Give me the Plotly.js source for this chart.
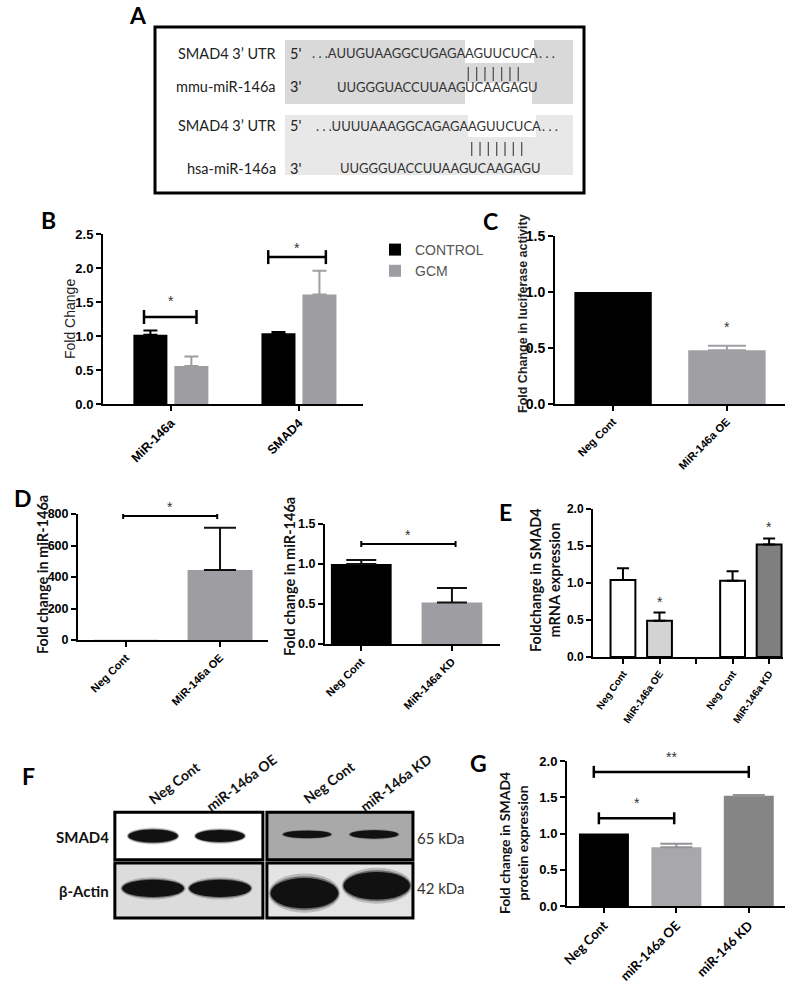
<!DOCTYPE html>
<html>
<head>
<meta charset="utf-8">
<script src="https://cdn.plot.ly/plotly-3.0.1.min.js"></script>
<style>
  html, body { margin: 0; padding: 0; background: #fff; }
  #chart { width: 800px; height: 987px; }
</style>
</head>
<body>
<div id="chart"></div>
<script>
// ---- data ----
// B: qPCR, control vs GCM
const bCategories = ['MiR-146a', 'SMAD4'];
const bControl = [1.02, 1.04];
const bControlSem = [0.06, 0.02];
const bGcm = [0.56, 1.61];
const bGcmSem = [0.14, 0.35];

// C: luciferase
const cCategories = ['Neg Cont', 'MiR-146a OE'];
const cValues = [1.0, 0.48];
const cSem = [null, 0.04];

// D: miR-146a levels
const dOeCategories = ['Neg Cont', 'MiR-146a OE'];
const dOeValues = [1, 445];
const dOeSem = [null, 268];
const dKdCategories = ['Neg Cont', 'MiR-146a KD'];
const dKdValues = [1.0, 0.52];
const dKdSem = [0.05, 0.18];

// E: SMAD4 mRNA
const eLabels = ['Neg Cont', 'MiR-146a OE', '', 'Neg Cont', 'MiR-146a KD'];
const eValues = [1.04, 0.49, null, 1.03, 1.52];
const eSem = [0.16, 0.11, null, 0.13, 0.08];

// F: western blot (relative band strength)
const blotLanes = ['Neg Cont', 'miR-146a OE', 'Neg Cont', 'miR-146a KD'];
const smad4Band = [1.0, 0.92, 0.55, 0.62];
const actinBand = [1.0, 1.0, 1.75, 1.6];

// G: SMAD4 protein
const gCategories = ['Neg Cont', 'miR-146a OE', 'miR-146 KD'];
const gValues = [1.0, 0.81, 1.52];
const gSem = [null, 0.05, 0.01];


//---------------------------------------------------------------//

// pixel -> paper helpers for the figure furniture
const W = 800, H = 987;
const px = x => x / W;
const py = y => 1 - y / H;
const domX = (a, b) => [px(a), px(b)];
const domY = (top, bottom) => [py(bottom), py(top)];

// only the upper half of the error bar, like GraphPad draws it
const upperErr = (sem, color, w) => ({
  type: 'data', symmetric: false, visible: true,
  array: sem.map(s => s == null ? NaN : s),
  arrayminus: sem.map(s => s == null ? NaN : 0),
  color: color, thickness: 2, width: w
});

const boldArial = (size) => ({family: 'Arial, Liberation Sans', size: size, color: '#000', weight: 'bold'});

const baseAxis = {
  showline: true, linecolor: '#000', linewidth: 2,
  ticks: 'outside', ticklen: 5, tickwidth: 2, tickcolor: '#000',
  showgrid: false, zeroline: false, fixedrange: true,
  tickfont: boldArial(12)
};

const GRAY = '#9e9ea2';

//---------------------------------------------------------------//
// traces

const traces = [];

// B
traces.push({
  type: 'bar', name: 'CONTROL', x: bCategories, y: bControl, xaxis: 'x', yaxis: 'y',
  marker: {color: '#000'}, error_y: upperErr(bControlSem, '#000', 7)
});
traces.push({
  type: 'bar', name: 'GCM', x: bCategories, y: bGcm, xaxis: 'x', yaxis: 'y',
  marker: {color: GRAY}, error_y: upperErr(bGcmSem, GRAY, 7)
});

// C
traces.push({
  type: 'bar', x: cCategories, y: cValues, xaxis: 'x2', yaxis: 'y2', width: 0.68, showlegend: false,
  marker: {color: ['#000', '#a0a0a4']}, error_y: upperErr(cSem, '#a0a0a4', 19)
});

// D left
traces.push({
  type: 'bar', x: dOeCategories, y: dOeValues, xaxis: 'x3', yaxis: 'y3', width: 0.69, showlegend: false,
  marker: {color: [GRAY, GRAY]}, error_y: upperErr(dOeSem, '#111', 16)
});

// D right
traces.push({
  type: 'bar', x: dKdCategories, y: dKdValues, xaxis: 'x4', yaxis: 'y4', width: 0.67, showlegend: false,
  marker: {color: ['#000', GRAY]}, error_y: upperErr(dKdSem, '#111', 15)
});

// E
traces.push({
  type: 'bar', x: eLabels.map((_, i) => i), y: eValues, xaxis: 'x5', yaxis: 'y5', width: 0.68, showlegend: false,
  marker: {color: ['#fff', '#d3d3d3', '#fff', '#fff', '#7f7f7f'], line: {color: '#000', width: 2}},
  error_y: upperErr(eSem, '#000', 6)
});

// G
traces.push({
  type: 'bar', x: gCategories, y: gValues, xaxis: 'x6', yaxis: 'y6', width: 0.69, showlegend: false,
  marker: {color: ['#000', '#a8a8ac', '#858585']}, error_y: upperErr(gSem, '#939397', 16)
});

// F placeholder so the blot axes exist
traces.push({type: 'scatter', x: [], y: [], xaxis: 'x7', yaxis: 'y7', showlegend: false});


//---------------------------------------------------------------//
// shapes and annotations

const shapes = [];
const annotations = [];

const note = (text, x, y, extra) => annotations.push(Object.assign({
  text: text, x: px(x), y: py(y), xref: 'paper', yref: 'paper', showarrow: false,
  xanchor: 'center', yanchor: 'middle', borderpad: 0,
  font: {family: 'Lato, Arial', size: 14, color: '#222'}
}, extra || {}));

const rect = (x0, y0, x1, y1, fill, line) => shapes.push({
  type: 'rect', xref: 'paper', yref: 'paper', x0: px(x0), x1: px(x1), y0: py(y0), y1: py(y1),
  fillcolor: fill, line: line || {width: 0}, layer: 'below'
});

// significance bracket with end caps
const bracket = (xr, yr, x0, x1, y, cap, w) => {
  const ln = {color: '#000', width: w || 2.5};
  shapes.push({type: 'line', xref: xr, yref: yr, x0: x0, x1: x1, y0: y, y1: y, line: ln});
  [x0, x1].forEach(x => shapes.push({
    type: 'line', xref: xr, yref: yr, x0: x, x1: x, ysizemode: 'pixel', yanchor: y, y0: -cap, y1: cap, line: ln
  }));
};
const star = (xr, yr, x, y, shift, text) => annotations.push({
  text: text || '*', xref: xr, yref: yr, x: x, y: y, yshift: shift, showarrow: false,
  xanchor: 'center', yanchor: 'middle', font: {family: 'Arial', size: 14, color: '#333'}
});

// ---- panel letters
const letters = [['A', 138, 15], ['B', 48, 220], ['C', 490, 221], ['D', 23, 498],
                 ['E', 505, 512], ['F', 28, 776], ['G', 478, 763]];
letters.forEach(l => note(l[0], l[1], l[2], {font: {family: 'Lato, Arial', size: 23, color: '#000', weight: 'bold'}}));

// ---- A: alignment box
rect(155, 27, 584, 193, '#fff', {color: '#000', width: 3});
rect(285, 40, 573, 104, '#d9d9d9');
rect(285, 115, 573, 175, '#e8e8e8');
rect(465, 40, 534, 63, '#fff');
rect(465, 83, 532, 104, '#fff');
rect(468, 115, 536, 137, '#fff');

const seqFont = {family: 'Lato, Arial', size: 13, color: '#333'};
const labFont = {family: 'Lato, Arial', size: 14.5, color: '#222'};
const seqRows = [
  {y: 53, label: 'SMAD4 3’ UTR', end: "5'", pre: '. . .AUUGUAAGGCUGAGA', seed: 'AGUUCUCA', post: '. . .', cut: 465, postX: 538},
  {y: 87, label: 'mmu-miR-146a', end: "3'", pre: 'UUGGGUACCUUAAG', seed: 'UCAAGAGU', post: '', cut: 465},
  {y: 126, label: 'SMAD4 3’ UTR', end: "5'", pre: '. . .UUUUAAAGGCAGAGA', seed: 'AGUUCUCA', post: '. . .', cut: 468, postX: 541},
  {y: 168, label: 'hsa-miR-146a', end: "3'", pre: 'UUGGGUACCUUAAG', seed: 'UCAAGAGU', post: '', cut: 468}
];
seqRows.forEach(r => {
  note(r.label, 277, r.y, {xanchor: 'right', font: labFont});
  note(r.end, 289, r.y, {xanchor: 'left', font: labFont});
  note(r.pre, r.cut + 1, r.y, {xanchor: 'right', font: seqFont});
  note(r.seed, r.cut - 1, r.y, {xanchor: 'left', font: seqFont});
  if (r.post) note(r.post, r.postX, r.y, {xanchor: 'left', font: seqFont});
});
// base pairing ticks
[[468.3, 67, 81], [471.7, 142, 156]].forEach(p => {
  for (let i = 0; i < 7; i++) {
    shapes.push({type: 'line', xref: 'paper', yref: 'paper',
      x0: px(p[0] + i * 8.33), x1: px(p[0] + i * 8.33), y0: py(p[1]), y1: py(p[2]),
      line: {color: '#555', width: 1.3}});
  }
});

// ---- B
note('Fold Change', 70, 319, {textangle: -90, font: {family: 'Arial', size: 14, color: '#222'}});
bracket('x', 'y', -0.21, 0.20, 1.28, 7);
star('x', 'y', 0, 1.28, 16);
bracket('x', 'y', 0.76, 1.21, 2.16, 7);
star('x', 'y', 0.985, 2.16, 9);

// ---- C
note('<b>Fold Change in luciferase activity</b>', 523, 314, {textangle: -90, font: {family: 'Arial', size: 12.5, color: '#222'}});
star('x2', 'y2', 1, 0.52, 19);

// ---- D
const titleFont = {family: 'Lato, Arial', size: 14.5, color: '#111', weight: 'bold'};
note('Fold change in miR-146a', 42, 575, {textangle: -90, font: titleFont});
note('Fold change in miR-146a', 289, 577, {textangle: -90, font: titleFont});
bracket('x3', 'y3', -0.03, 0.97, 787, 3, 2);
star('x3', 'y3', 0.47, 787, 9);
bracket('x4', 'y4', 0, 1.04, 1.25, 3, 2);
star('x4', 'y4', 0.52, 1.25, 9);

// ---- E
note('Foldchange in SMAD4<br>mRNA expression', 545, 580, {textangle: -90, font: titleFont});
star('x5', 'y5', 1, 0.60, 11);
star('x5', 'y5', 4, 1.60, 12);

// ---- F: western blot
const lanePos = i => i + (i >= 2 ? 0.3 : 0);
const blotRows = {smad4: 0, actin: 0.97};
// blot frames and backgrounds
[[-0.57, 1.64, -0.44, 0.44, '#ffffff'], [1.70, 3.88, -0.44, 0.44, '#a9a9a9'],
 [-0.57, 1.64, 0.50, 1.52, '#dcdcdc'], [1.70, 3.88, 0.50, 1.52, '#e4e4e4']].forEach(f => {
  shapes.push({type: 'rect', xref: 'x7', yref: 'y7', x0: f[0], x1: f[1], y0: f[2], y1: f[3],
    fillcolor: f[4], line: {color: '#000', width: 3}, layer: 'below'});
});
const band = (x, y, hw, hh) => {
  [[1.06, 1.3, 0.2], [1.03, 1.12, 0.45], [1, 1, 1]].forEach(s => shapes.push({
    type: 'circle', xref: 'x7', yref: 'y7',
    x0: x - hw * s[0], x1: x + hw * s[0], y0: y - hh * s[1], y1: y + hh * s[1],
    fillcolor: '#111', opacity: s[2], line: {width: 0}
  }));
};
smad4Band.forEach((v, i) => band(lanePos(i), blotRows.smad4 + (i >= 2 ? -0.03 : 0), 0.34 + 0.03 * v, 0.12 * v));
actinBand.forEach((v, i) => band(lanePos(i) + (i >= 2 ? (i - 2.5) * 0.08 : 0),
  blotRows.actin + (i >= 2 ? (v - 1) * 0.12 - (i - 2) * 0.12 : 0), 0.40 + 0.06 * v, 0.16 * v));

blotLanes.forEach((name, i) => {
  annotations.push({text: '<b>' + name + '</b>', xref: 'x7', yref: 'paper', x: lanePos(i) + 0.32,
    y: py(782), showarrow: false, textangle: -37, xanchor: 'center', yanchor: 'middle',
    font: {family: 'Lato, Arial', size: 14, color: '#111'}});
});
note('<b>SMAD4</b>', 110, 837, {xanchor: 'right', font: {family: 'Lato, Arial', size: 15, color: '#111'}});
note('<b>β-Actin</b>', 110, 891, {xanchor: 'right', font: {family: 'Lato, Arial', size: 15, color: '#111'}});
note('65 kDa', 416, 838, {xanchor: 'left', font: {family: 'Lato, Arial', size: 15, color: '#333'}});
note('42 kDa', 416, 888, {xanchor: 'left', font: {family: 'Lato, Arial', size: 15, color: '#333'}});

// ---- G
note('Fold change in SMAD4<br>protein expression', 513, 843, {textangle: -90, font: Object.assign({}, titleFont, {size: 14})});
bracket('x6', 'y6', -0.07, 0.97, 1.21, 6);
star('x6', 'y6', 0.45, 1.21, 15);
bracket('x6', 'y6', -0.14, 2.0, 1.85, 6);
star('x6', 'y6', 0.93, 1.85, 15, '**');


//---------------------------------------------------------------//
// layout

const ax = (extra) => Object.assign({}, baseAxis, extra);

const layout = {
  width: W, height: H,
  margin: {l: 0, r: 0, t: 0, b: 0},
  paper_bgcolor: '#fff', plot_bgcolor: 'rgba(0,0,0,0)',
  barmode: 'group', bargap: 0.36, bargroupgap: 0.17,
  showlegend: true,
  legend: {x: px(375), y: py(234), xanchor: 'left', yanchor: 'top', bgcolor: 'rgba(0,0,0,0)',
           font: {family: 'Arial', size: 14, color: '#555'}, tracegroupgap: 0},

  xaxis: ax({domain: domX(103, 363), anchor: 'y', type: 'category', range: [-0.53, 1.5], tickangle: -45, tickfont: boldArial(12.5)}),
  yaxis: ax({domain: domY(234, 404), anchor: 'x', range: [0, 2.5], dtick: 0.5, tickformat: '.1f', tickfont: boldArial(13)}),

  xaxis2: ax({domain: domX(555, 785), anchor: 'y2', type: 'category', range: [-0.51, 1.51], tickangle: -45, tickfont: boldArial(11)}),
  yaxis2: ax({domain: domY(236, 404), anchor: 'x2', range: [0, 1.5], dtick: 0.5, tickformat: '.1f', tickfont: boldArial(14)}),

  xaxis3: ax({domain: domX(78, 268), anchor: 'y3', type: 'category', range: [-0.51, 1.51], tickangle: -45, tickfont: boldArial(11)}),
  yaxis3: ax({domain: domY(514, 640), anchor: 'x3', range: [0, 800], dtick: 200, tickfont: boldArial(12.5)}),

  xaxis4: ax({domain: domX(325, 500), anchor: 'y4', type: 'category', range: [-0.40, 1.53], tickangle: -45, tickfont: boldArial(11)}),
  yaxis4: ax({domain: domY(524, 644), anchor: 'x4', range: [0, 1.5], dtick: 0.5, tickformat: '.1f', tickfont: boldArial(12.5)}),

  xaxis5: ax({domain: domX(593, 783), anchor: 'y5', range: [-0.82, 4.38], tickvals: eLabels.map((_, i) => i),
              ticktext: eLabels, tickangle: -55, tickfont: boldArial(10)}),
  yaxis5: ax({domain: domY(509, 657), anchor: 'x5', range: [0, 2], dtick: 0.5, tickformat: '.1f', tickfont: boldArial(12)}),

  xaxis6: ax({domain: domX(567, 785), anchor: 'y6', type: 'category', range: [-0.51, 2.5], tickangle: -45,
              tickfont: {family: 'Lato, Arial', size: 13, color: '#000', weight: 'bold'}}),
  yaxis6: ax({domain: domY(761, 906), anchor: 'x6', range: [0, 2], dtick: 0.5, tickformat: '.1f', tickfont: boldArial(13)}),

  xaxis7: {domain: domX(111.5, 416.3), anchor: 'y7', range: [-0.62, 3.93], visible: false, fixedrange: true},
  yaxis7: {domain: domY(810.1, 920.2), anchor: 'x7', range: [1.56, -0.48], visible: false, fixedrange: true},

  shapes: shapes,
  annotations: annotations
};

Plotly.newPlot('chart', traces, layout, {displayModeBar: false, staticPlot: true});
</script>
</body>
</html>
